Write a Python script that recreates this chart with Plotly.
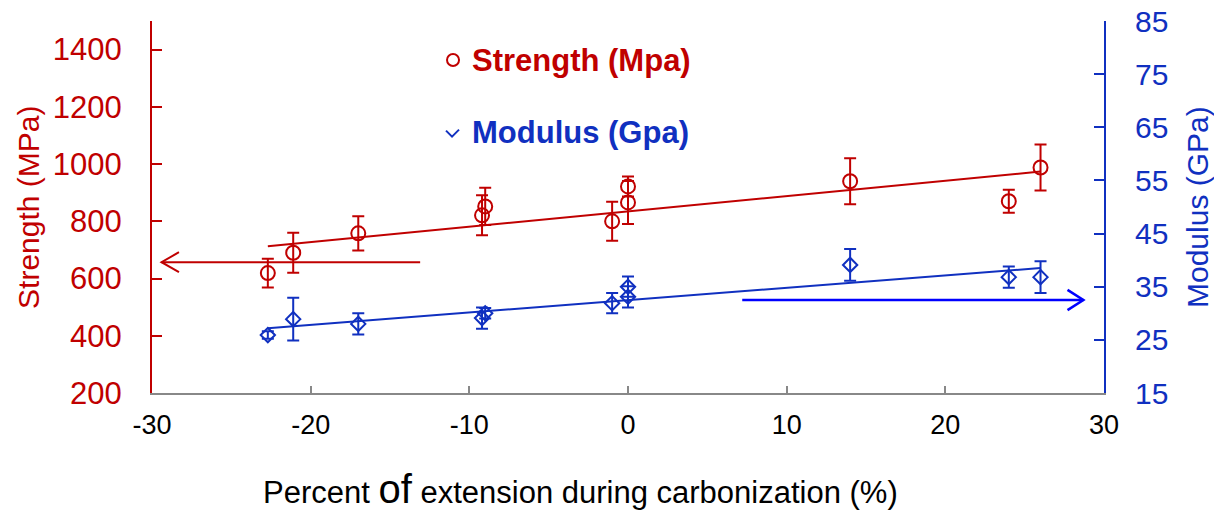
import plotly.graph_objects as go

# ---- data ----
strength_x = [-22.7, -21.1, -17.0, -9.2, -9.0, -1.0, 0.0, 0.0, 14.0, 24.0, 26.0]
strength_y = [619, 690, 758, 821, 852, 800, 866, 922, 940, 870, 988]
strength_err = [50, 70, 60, 70, 65, 68, 75, 35, 80, 40, 80]

modulus_x = [-22.7, -21.1, -17.0, -9.2, -9.0, -1.0, 0.0, 0.0, 14.0, 24.0, 26.0]
modulus_y = [25.9, 28.9, 28.0, 29.1, 30.0, 31.9, 33.1, 35.0, 39.1, 36.8, 36.8]
modulus_err = [0.7, 4.0, 2.0, 2.0, 1.0, 1.9, 2.0, 1.9, 3.0, 2.0, 3.0]

strength_fit_x = [-22.7, 26.0]
strength_fit_y = [713, 974]
modulus_fit_x = [-22.7, 26.0]
modulus_fit_y = [27.2, 38.5]

x_ticks = [-30, -20, -10, 0, 10, 20, 30]
x_tick_labels = ["-30", "-20", "-10", "0", "10", "20", "30"]
left_ticks = [200, 400, 600, 800, 1000, 1200, 1400]
right_ticks = [15, 25, 35, 45, 55, 65, 75, 85]

RED = "#C00000"
BLUE = "#1030C0"
ARROW_BLUE = "#0000FF"
FONT = "Arial, Liberation Sans, sans-serif"

fig = go.Figure()

fig.add_trace(go.Scatter(
    x=strength_fit_x, y=strength_fit_y, mode="lines",
    line=dict(color=RED, width=2), showlegend=False, hoverinfo="skip"))
fig.add_trace(go.Scatter(
    x=strength_x, y=strength_y, mode="markers",
    marker=dict(symbol="circle-open", size=14, color=RED, line=dict(width=2, color=RED)),
    error_y=dict(type="data", array=strength_err, color=RED, thickness=2, width=6),
    showlegend=False))

fig.add_trace(go.Scatter(
    x=modulus_fit_x, y=modulus_fit_y, mode="lines", yaxis="y2",
    line=dict(color=BLUE, width=2), showlegend=False, hoverinfo="skip"))
fig.add_trace(go.Scatter(
    x=modulus_x, y=modulus_y, mode="markers", yaxis="y2",
    marker=dict(symbol="diamond-open", size=11, color=BLUE, line=dict(width=2, color=BLUE)),
    error_y=dict(type="data", array=modulus_err, color=BLUE, thickness=2, width=6),
    showlegend=False))

# arrows (annotation graphics)
shapes = [
    dict(type="line", xref="x", yref="y", x0=-13.1, x1=-29.4, y0=657, y1=657,
         line=dict(color=RED, width=2)),
    dict(type="path", xref="x", yref="y",
         path="M -28.3,692 L -29.4,657 L -28.3,622",
         line=dict(color=RED, width=2)),
    dict(type="line", xref="x", yref="y2", x0=7.2, x1=28.7, y0=32.5, y1=32.5,
         line=dict(color=ARROW_BLUE, width=2.5)),
    dict(type="path", xref="x", yref="y2",
         path="M 27.7,34.4 L 28.7,32.5 L 27.7,30.6",
         line=dict(color=ARROW_BLUE, width=2.5)),
    # legend symbols
    dict(type="circle", xref="paper", yref="paper", xsizemode="pixel", ysizemode="pixel",
         xanchor=0.3162, yanchor=0.895, x0=-6, x1=6, y0=-6, y1=6,
         line=dict(color=RED, width=2)),
    dict(type="path", xref="paper", yref="paper", xsizemode="pixel", ysizemode="pixel",
         xanchor=0.3162, yanchor=0.700, path="M -7,2 L -1,-4 L 6,3",
         line=dict(color=BLUE, width=2)),
]

annotations = [
    dict(text="<b>Strength (Mpa)</b>", xref="paper", yref="paper", x=0.334, y=0.895,
         xanchor="left", yanchor="middle", showarrow=False,
         font=dict(family=FONT, size=31, color=RED)),
    dict(text="<b>Modulus (Gpa)</b>", xref="paper", yref="paper", x=0.334, y=0.700,
         xanchor="left", yanchor="middle", showarrow=False,
         font=dict(family=FONT, size=31, color=BLUE)),
    dict(text="Strength (MPa)", xref="paper", yref="paper", x=-0.1303, y=0.5,
         textangle=-90, xanchor="center", yanchor="middle", showarrow=False,
         font=dict(family=FONT, size=30, color=RED)),
    dict(text="Modulus (GPa)", xref="paper", yref="paper", x=1.0977, y=0.5,
         textangle=-90, xanchor="center", yanchor="middle", showarrow=False,
         font=dict(family=FONT, size=30, color=BLUE)),
    dict(text="Percent <span style='font-size:40px'>of</span> extension during carbonization (%)",
         xref="paper", yref="paper", x=0.4506, y=-0.257,
         xanchor="center", yanchor="middle", showarrow=False,
         font=dict(family=FONT, size=31, color="black")),
]

fig.update_layout(
    width=1214, height=512, autosize=False,
    margin=dict(l=152, r=110, t=21, b=119, pad=0, autoexpand=False),
    paper_bgcolor="white", plot_bgcolor="white",
    font=dict(family=FONT),
    shapes=shapes, annotations=annotations,
    xaxis=dict(range=[-30, 30], tickvals=x_ticks, ticktext=x_tick_labels,
               ticks="inside", ticklen=7, automargin=False,
               tickcolor="#888888", tickwidth=2, showline=True, linecolor="#888888",
               linewidth=2, showgrid=False, zeroline=False,
               tickfont=dict(family=FONT, size=27, color="black"),
               ticklabelstandoff=7),
    yaxis=dict(range=[200, 1500], tickvals=left_ticks, ticks="inside", ticklen=10,
               automargin=False,
               tickcolor=RED, tickwidth=2, showline=True, linecolor=RED, linewidth=2,
               showgrid=False, zeroline=False,
               tickfont=dict(family=FONT, size=31, color=RED),
               ticklabelstandoff=22),
    yaxis2=dict(range=[15, 85], tickvals=right_ticks, overlaying="y", side="right",
                automargin=False,
                ticks="inside", ticklen=10, tickcolor=BLUE, tickwidth=2, showline=True,
                linecolor=BLUE, linewidth=2, showgrid=False, zeroline=False,
                tickfont=dict(family=FONT, size=30, color=BLUE),
                ticklabelstandoff=23),
)

fig.write_html("out.html")
